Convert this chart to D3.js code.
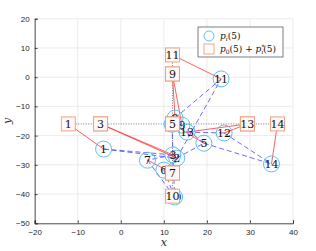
<!DOCTYPE html>
<html>
<head>
<meta charset="utf-8">
<script src="https://cdn.jsdelivr.net/npm/d3@7"></script>
<style>
  body { margin: 0; background: #fff; }
  svg text { font-family: "Liberation Sans", Arial, sans-serif; }
</style>
</head>
<body>
<svg id="chart" width="316" height="251"></svg>
<script>
// agent ids
var ids = [1, 2, 3, 4, 5, 6, 7, 8, 9, 10, 11, 12, 13, 14];

// p0(5) + p*_i(5) : formation targets (squares)
var targetX = [-12.2, -4.7, -4.7, 12, 12, 12, 12, 12, 12, 12, 12, 29.4, 29.4, 36.4];
var targetY = [-16, -16, -16, -16, -16, -32.8, -32.8, 1.1, 1.1, -40.7, 7.6, -16, -16, -16];

// p_i(5) : agent positions (circles)
var posX = [-4.0, 13.0, 12.1, 11.9, 19.3, 10.0, 6.2, 12.6, 14.2, 12.5, 23.3, 24.0, 15.4, 35.0];
var posY = [-24.6, -27.7, -26.6, -16.1, -22.6, -31.8, -28.4, -14.0, -16.4, -41.0, -0.6, -19.1, -18.8, -29.7];

// communication edges between agents (blue dashed)
var edges = [[1, 2], [1, 3], [3, 7], [2, 5], [3, 10], [6, 10], [7, 10], [2, 6],
             [4, 8], [8, 11], [2, 11], [4, 9], [5, 9], [12, 13], [12, 14], [5, 14], [3, 4]];

// axis ticks
var xTicks = [-20, -10, 0, 10, 20, 30, 40];
var yTicks = [-50, -40, -30, -20, -10, 0, 10, 20];

var svg = d3.select("#chart");

// plot box
var boxL = 34.7, boxR = 293, boxT = 18.7, boxB = 223.3;

var x = d3.scaleLinear().domain([-20, 40]).range([boxL, boxR]);
var y = d3.scaleLinear().domain([-50, 20]).range([boxB, boxT]);

// grid lines
svg.append("g").selectAll("line")
  .data(xTicks).enter().append("line")
  .attr("x1", function(d) { return x(d); })
  .attr("x2", function(d) { return x(d); })
  .attr("y1", boxT).attr("y2", boxB)
  .style("stroke", "#e6e6e6").style("stroke-width", 0.8);

svg.append("g").selectAll("line")
  .data(yTicks).enter().append("line")
  .attr("y1", function(d) { return y(d); })
  .attr("y2", function(d) { return y(d); })
  .attr("x1", boxL).attr("x2", boxR)
  .style("stroke", "#e6e6e6").style("stroke-width", 0.8);

// axes
var xAxis = svg.append("g")
  .attr("transform", "translate(0," + boxB + ")")
  .call(d3.axisBottom(x).tickValues(xTicks).tickSize(-3).tickPadding(6));
var yAxis = svg.append("g")
  .attr("transform", "translate(" + boxL + ",0)")
  .call(d3.axisLeft(y).tickValues(yTicks).tickSize(-3).tickPadding(5));

[xAxis, yAxis].forEach(function(a) {
  a.select(".domain").style("stroke", "#262626").style("stroke-width", 0.8);
  a.selectAll(".tick line").style("stroke", "#262626").style("stroke-width", 0.8);
  a.selectAll(".tick text")
    .style("font-family", "Liberation Sans, Arial, sans-serif")
    .style("font-size", "8px")
    .style("fill", "#262626");
});

// axis labels
svg.append("text")
  .attr("x", (boxL + boxR) / 2).attr("y", 246)
  .attr("text-anchor", "middle")
  .style("font-family", "DejaVu Serif, serif").style("font-style", "italic")
  .style("font-size", "11px").style("fill", "#262626")
  .text("x");

svg.append("text")
  .attr("transform", "translate(11," + ((boxT + boxB) / 2) + ") rotate(-90)")
  .attr("text-anchor", "middle")
  .style("font-family", "DejaVu Serif, serif").style("font-style", "italic")
  .style("font-size", "11px").style("fill", "#262626")
  .text("y");

// formation cross (black dotted)
var hMin = d3.min(targetX), hMax = d3.max(targetX);
var vMin = d3.min(targetY), vMax = d3.max(targetY);
var cx0 = targetX[4], cy0 = targetY[4];

svg.append("line")
  .attr("x1", x(hMin)).attr("x2", x(hMax))
  .attr("y1", y(cy0)).attr("y2", y(cy0))
  .style("stroke", "#555").style("stroke-width", 0.8)
  .style("stroke-dasharray", "1,1.5");
svg.append("line")
  .attr("x1", x(cx0)).attr("x2", x(cx0))
  .attr("y1", y(vMin)).attr("y2", y(vMax))
  .style("stroke", "#555").style("stroke-width", 0.8)
  .style("stroke-dasharray", "1,1.5");

// blue dashed edges
svg.append("g").selectAll("line")
  .data(edges).enter().append("line")
  .attr("x1", function(d) { return x(posX[d[0] - 1]); })
  .attr("y1", function(d) { return y(posY[d[0] - 1]); })
  .attr("x2", function(d) { return x(posX[d[1] - 1]); })
  .attr("y2", function(d) { return y(posY[d[1] - 1]); })
  .style("stroke", "#4646ff").style("stroke-width", 0.8)
  .style("stroke-dasharray", "5,3");

// red lines target -> agent
svg.append("g").selectAll("line")
  .data(ids).enter().append("line")
  .attr("x1", function(d, i) { return x(targetX[i]); })
  .attr("y1", function(d, i) { return y(targetY[i]); })
  .attr("x2", function(d, i) { return x(posX[i]); })
  .attr("y2", function(d, i) { return y(posY[i]); })
  .style("stroke", "#ff3535").style("stroke-width", 0.8);

// agents (circles), each with its label
var agents = svg.append("g").selectAll("g")
  .data(ids).enter().append("g")
  .attr("transform", function(d, i) { return "translate(" + x(posX[i]) + "," + y(posY[i]) + ")"; });
agents.append("circle")
  .attr("r", 8)
  .style("fill", "none").style("stroke", "#4db8ec").style("stroke-width", 0.9);
agents.append("text")
  .attr("y", 4)
  .attr("text-anchor", "middle")
  .style("font-family", "DejaVu Serif, serif")
  .style("font-size", "11px").style("fill", "#111")
  .text(function(d) { return d; });

// targets (squares), each drawn with its label so later ones cover earlier ones
var sq = 14;
var targets = svg.append("g").selectAll("g")
  .data(ids).enter().append("g")
  .attr("transform", function(d, i) { return "translate(" + x(targetX[i]) + "," + y(targetY[i]) + ")"; });
targets.append("rect")
  .attr("x", -sq / 2).attr("y", -sq / 2)
  .attr("width", sq).attr("height", sq)
  .style("fill", "#fff7f3")
  .style("stroke", "#ee9a78").style("stroke-width", 0.9);
targets.append("text")
  .attr("y", 4)
  .attr("text-anchor", "middle")
  .style("font-family", "DejaVu Serif, serif")
  .style("font-size", "11px").style("fill", "#111")
  .text(function(d) { return d; });

// legend
var lg = svg.append("g").attr("transform", "translate(198,27)");
lg.append("rect")
  .attr("width", 85).attr("height", 30)
  .style("fill", "#fff").style("stroke", "#262626").style("stroke-width", 0.6);
lg.append("circle").attr("cx", 11).attr("cy", 9).attr("r", 5)
  .style("fill", "none").style("stroke", "#4db8ec").style("stroke-width", 0.9);
lg.append("rect").attr("x", 6).attr("y", 17).attr("width", 10).attr("height", 10)
  .style("fill", "none").style("stroke", "#ee9a78").style("stroke-width", 0.9);

var t1 = lg.append("text").attr("x", 22).attr("y", 12)
  .style("font-family", "DejaVu Serif, serif").style("font-size", "9px").style("fill", "#111");
t1.append("tspan").style("font-style", "italic").text("p");
t1.append("tspan").attr("dy", 2).style("font-size", "6px").style("font-style", "italic").text("i");
t1.append("tspan").attr("dy", -2).text("(5)");

var t2 = lg.append("text").attr("x", 22).attr("y", 25)
  .style("font-family", "DejaVu Serif, serif").style("font-size", "9px").style("fill", "#111");
t2.append("tspan").style("font-style", "italic").text("p");
t2.append("tspan").attr("dy", 2).style("font-size", "6px").text("0");
t2.append("tspan").attr("dy", -2).text("(5) + ");
t2.append("tspan").style("font-style", "italic").text("p");
t2.append("tspan").attr("dy", -3).style("font-size", "6px").text("*");
t2.append("tspan").attr("dx", -3).attr("dy", 5).style("font-size", "6px").style("font-style", "italic").text("i");
t2.append("tspan").attr("dy", -2).text("(5)");
</script>
</body>
</html>
